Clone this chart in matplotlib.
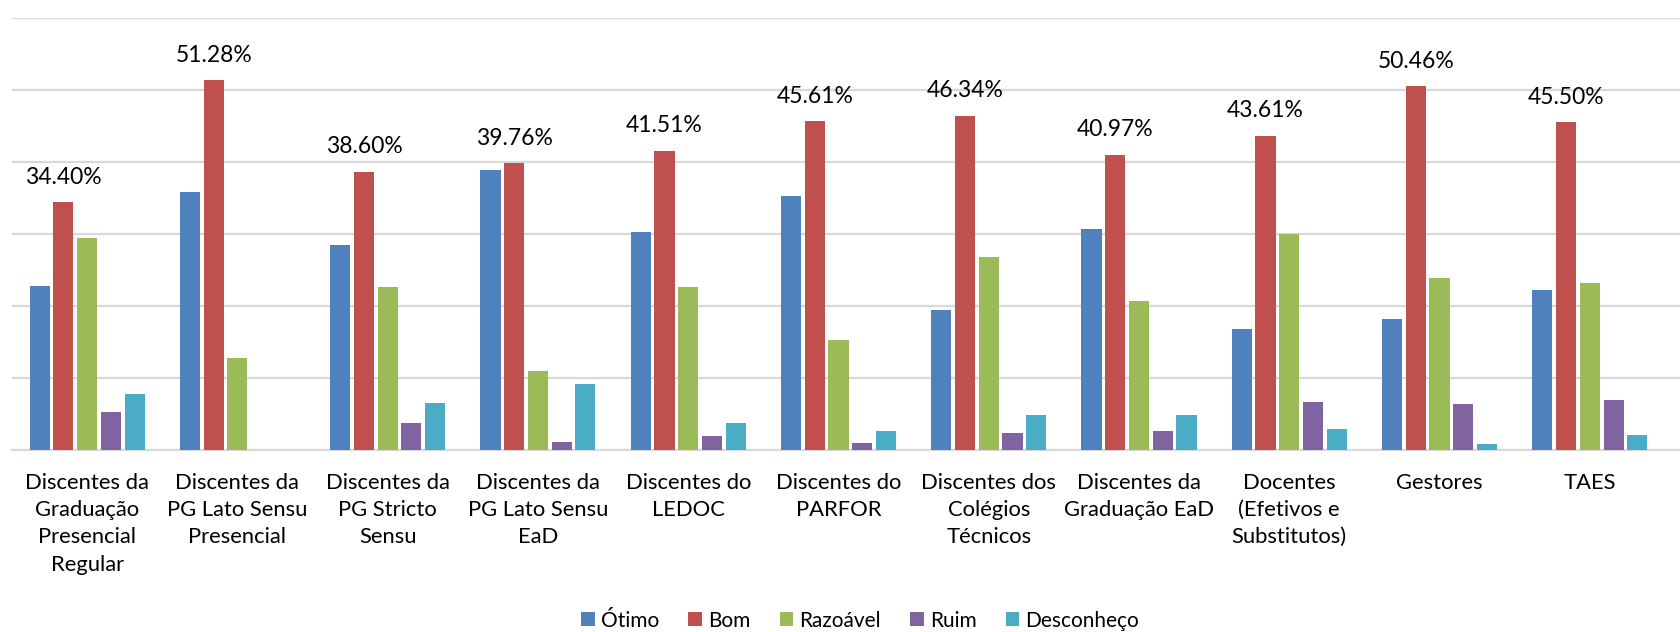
import matplotlib
matplotlib.use("Agg")
import matplotlib.pyplot as plt
import numpy as np

categories = [
    "Discentes da\nGraduação\nPresencial\nRegular",
    "Discentes da\nPG Lato Sensu\nPresencial",
    "Discentes da\nPG Stricto\nSensu",
    "Discentes da\nPG Lato Sensu\nEaD",
    "Discentes do\nLEDOC",
    "Discentes do\nPARFOR",
    "Discentes dos\nColégios\nTécnicos",
    "Discentes da\nGraduação EaD",
    "Docentes\n(Efetivos e\nSubstitutos)",
    "Gestores",
    "TAES",
]
series_names = ["Ótimo", "Bom", "Razoável", "Ruim", "Desconheço"]
otimo = [22.8, 35.8, 28.4, 38.9, 30.2, 35.2, 19.4, 30.6, 16.8, 18.2, 22.2]
bom = [34.40, 51.28, 38.60, 39.76, 41.51, 45.61, 46.34, 40.97, 43.61, 50.46, 45.50]
razoavel = [29.4, 12.7, 22.6, 11.0, 22.6, 15.3, 26.8, 20.7, 29.9, 23.8, 23.2]
ruim = [5.3, 0.0, 3.7, 1.1, 1.9, 1.0, 2.4, 2.6, 6.7, 6.4, 6.9]
desconheco = [7.8, 0.0, 6.5, 9.1, 3.7, 2.6, 4.9, 4.9, 2.9, 0.8, 2.1]
colors = ["#4F81BD", "#C0504D", "#9BBB59", "#8064A2", "#4BACC6"]

plt.rcParams['font.family'] = ['Lato', 'DejaVu Sans']

fig = plt.figure(figsize=(16.8, 6.32), dpi=100)
ax = fig.add_axes([12/1680, 1 - 450/632, 1 - 12/1680, (450 - 17.5)/632])

x = np.arange(len(categories))
slot = 0.158
barw = 0.134
all_series = [otimo, bom, razoavel, ruim, desconheco]
for j, (vals, name, c) in enumerate(zip(all_series, series_names, colors)):
    ax.bar(x + (j - 2) * slot, vals, width=barw, color=c, label=name, zorder=3)

for xi, v in zip(x, bom):
    ax.annotate(f"{v:.2f}%", (xi - slot, v), xytext=(0, 18), textcoords="offset points",
                ha="center", va="center", fontsize=16.5, color="#000000")

ax.set_ylim(0, 60)
ax.set_xlim(-0.5, 10.6)
ax.set_yticks(np.arange(0, 61, 10))
ax.yaxis.grid(True, color="#D9D9D9", linewidth=1.6, zorder=0)
ax.tick_params(axis="y", left=False, labelleft=False)
ax.tick_params(axis="x", bottom=False, pad=13)
ax.set_xticks(x)
ax.set_xticklabels(categories, fontsize=15.8, linespacing=1.45, va="top")
for s in ["top", "right", "left"]:
    ax.spines[s].set_visible(False)
ax.spines["bottom"].set_color("#D9D9D9")
ax.spines["bottom"].set_linewidth(1.6)

leg = fig.legend(loc="center", bbox_to_anchor=(0.512, 0.018), ncol=5, frameon=False,
                 fontsize=15, handlelength=0.65, handleheight=0.65, handletextpad=0.3,
                 columnspacing=1.4)

fig.savefig("out.png", dpi=100)
